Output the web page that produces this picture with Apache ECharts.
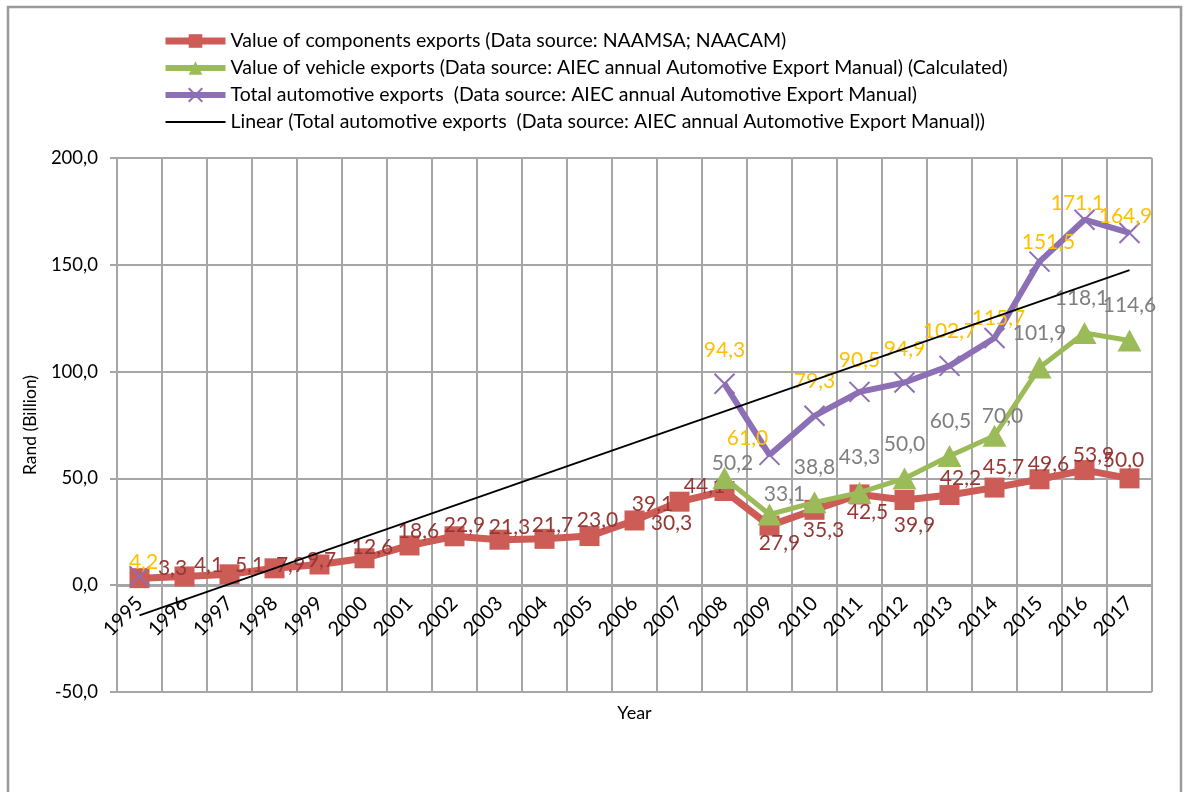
<!DOCTYPE html>
<html>
<head>
<meta charset="utf-8">
<script src="https://cdn.jsdelivr.net/npm/echarts@6/dist/echarts.min.js"></script>
<style>
html,body{margin:0;padding:0;background:#fff;}
#chart{width:1188px;height:792px;}
</style>
</head>
<body>
<div id="chart"></div>
<script>
// ---- data ----
const years = ['1995','1996','1997','1998','1999','2000','2001','2002','2003','2004','2005','2006',
               '2007','2008','2009','2010','2011','2012','2013','2014','2015','2016','2017'];
const componentsExports = [3.3,4.1,5.1,7.9,9.7,12.6,18.6,22.9,21.3,21.7,23.0,30.3,39.1,44.1,27.9,35.3,42.5,39.9,42.2,45.7,49.6,53.9,50.0];
const vehicleExports = [null,null,null,null,null,null,null,null,null,null,null,null,null,50.2,33.1,38.8,43.3,50.0,60.5,70.0,101.9,118.1,114.6];
const totalExports = [4.2,null,null,null,null,null,null,null,null,null,null,null,null,94.3,61.0,79.3,90.5,94.9,102.7,115.7,151.5,171.1,164.9];
// linear trend line end values
const trendLine = [-14.1,null,null,null,null,null,null,null,null,null,null,null,null,null,null,null,null,null,null,null,null,null,147.5];
const yTicks = {min:-50, max:200, interval:50};
const seriesNames = [
  'Value of components exports (Data source: NAAMSA; NAACAM)',
  'Value of vehicle exports (Data source: AIEC annual Automotive Export Manual) (Calculated)',
  'Total automotive exports  (Data source: AIEC annual Automotive Export Manual)',
  'Linear (Total automotive exports  (Data source: AIEC annual Automotive Export Manual))'
];

// ---- label placement (style) ----
const compOffsets = [[33,-10],[24,-11],[20,-9],[16,-3],[2,-4],[8,-11],[9,-14],[10,-11],[10,-12],[8,-14],[8,-16],[37,3],[-27,3],[-20,-5],[10,18],[9,20],[8,18],[10,25],[11,-17],[9,-20],[9,-15],[9,-15],[-6,-18]];
const vehOffsets = {13:[8,-15],14:[15,-20],15:[0,-35],16:[0,-35],17:[0,-34],18:[1,-35],19:[8,-19],20:[0,-34],21:[-3,-35],22:[0,-35]};
const totOffsets = {0:[4,-14],13:[0,-34],14:[-22,-17],15:[0,-35],16:[0,-32],17:[0,-33],18:[0,-35],19:[4,-20],20:[9,-19],21:[-7,-16],22:[-4,-17]};

const FONT = 'Lato';
const fmt = v => v.toFixed(1).replace('.', ',');

function withLabels(values, offsets, color) {
  return values.map((v, i) => {
    if (v === null) return null;
    const off = Array.isArray(offsets) ? offsets[i] : (offsets[i] || [0,-30]);
    return {value: v, label: {show: true, position: 'inside', offset: off, color: color,
      fontSize: 21, fontFamily: FONT, formatter: p => fmt(p.value)}};
  });
}

const chart = echarts.init(document.getElementById('chart'), null, {renderer:'canvas'});
const grey = '#A6A6A6';
const RED = '#CD5B56', GREEN = '#9BBB59', PURPLE = '#8C6FB4';
const option = {
  animation: false,
  backgroundColor: '#fff',
  textStyle: {fontFamily: FONT},
  graphic: [{type:'rect', shape:{x:8,y:7,width:1173,height:800}, style:{fill:'none', stroke:'#9a9a9a', lineWidth:2.5}, z:-1}],
  legend: {
    orient: 'vertical', left: 157, top: 26, itemGap: 7, itemWidth: 60, itemHeight: 17,
    textStyle: {fontSize: 19.5, color: '#000', fontFamily: FONT},
    data: [
      {name: seriesNames[0], lineStyle: {width: 7, color: RED}},
      {name: seriesNames[1], lineStyle: {width: 6, color: GREEN}},
      {name: seriesNames[2], lineStyle: {width: 6, color: PURPLE}},
      {name: seriesNames[3], lineStyle: {width: 2, color: '#000'}, itemStyle: {color: 'rgba(0,0,0,0)', opacity: 0}}
    ]
  },
  grid: {left: 117, right: 36, top: 158, bottom: 100, containLabel: false, outerBoundsMode: 'none'},
  xAxis: {
    type: 'category', data: years, boundaryGap: true, offset: -106,
    name: 'Year', nameLocation: 'middle', nameGap: 118,
    nameTextStyle: {fontSize: 18, color: '#000', fontFamily: FONT},
    axisLine: {onZero: false, lineStyle: {color: grey, width: 2}},
    axisTick: {show: false},
    axisLabel: {interval: 0, rotate: 45, fontSize: 20, color: '#000', margin: 14, fontFamily: FONT},
    splitLine: {show: true, interval: 0, lineStyle: {color: grey, width: 2}}
  },
  yAxis: {
    type: 'value', min: yTicks.min, max: yTicks.max, interval: yTicks.interval,
    name: 'Rand (Billion)', nameLocation: 'middle', nameGap: 78, nameRotate: 90,
    nameTextStyle: {fontSize: 17.5, color: '#000', fontFamily: FONT},
    axisLine: {show: true, lineStyle: {color: grey, width: 2}},
    axisTick: {show: true, length: 7, lineStyle: {color: grey, width: 2}},
    axisLabel: {fontSize: 18.5, color: '#000', margin: 19, fontFamily: FONT, formatter: v => fmt(v)},
    splitLine: {show: true, lineStyle: {color: grey, width: 2}}
  },
  series: [
    {
      name: seriesNames[0], type: 'line', data: withLabels(componentsExports, compOffsets, '#953735'),
      symbol: 'rect', symbolSize: 20, showAllSymbol: true,
      lineStyle: {color: RED, width: 7}, itemStyle: {color: RED}, z: 2
    },
    {
      name: seriesNames[1], type: 'line', data: withLabels(vehicleExports, vehOffsets, '#7F7F7F'),
      symbol: 'triangle', symbolSize: [24, 22], showAllSymbol: true,
      lineStyle: {color: GREEN, width: 5}, itemStyle: {color: GREEN}, z: 3
    },
    {
      name: seriesNames[2], type: 'line', data: withLabels(totalExports, totOffsets, '#FFC000'),
      symbol: 'path://M0,0L10,10M10,0L0,10', symbolSize: 20, showAllSymbol: true,
      lineStyle: {color: PURPLE, width: 6},
      itemStyle: {color: PURPLE, borderColor: PURPLE, borderWidth: 2}, z: 4
    },
    {
      name: seriesNames[3], type: 'line', data: trendLine, connectNulls: true,
      symbol: 'none', lineStyle: {color: '#000', width: 1.8}, itemStyle: {color: '#000'}, z: 5
    }
  ]
};
chart.setOption(option);
</script>
</body>
</html>
